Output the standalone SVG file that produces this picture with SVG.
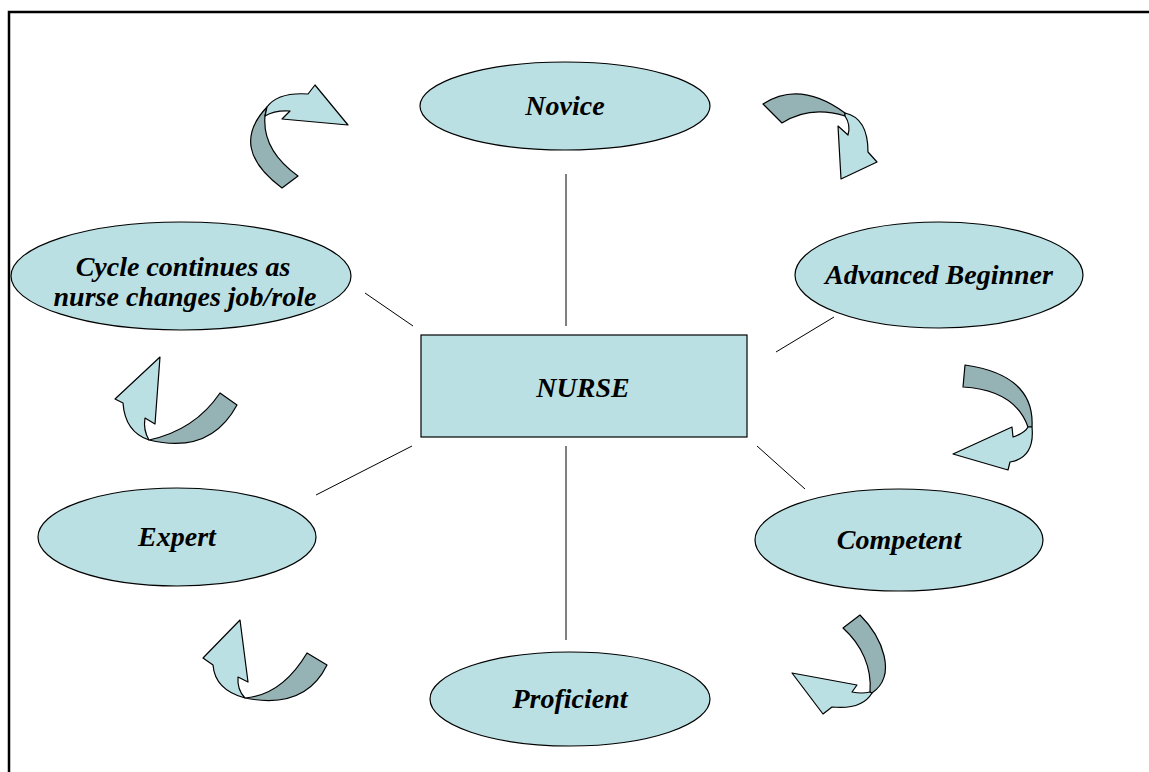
<svg xmlns="http://www.w3.org/2000/svg" width="1149" height="772" viewBox="0 0 1149 772">
<style>
.n{fill:#BBE0E3;stroke:#000;stroke-width:1.2}
.t{font-family:"Liberation Serif","Times New Roman",serif;font-weight:bold;font-style:italic;font-size:28px;fill:#000;text-anchor:middle}
.c{stroke:#000;stroke-width:1;fill:none}
.lt{fill:#BBE0E3;stroke:#000;stroke-width:1.2;stroke-linejoin:round}
.dk{fill:#95B2B5;stroke:#000;stroke-width:1.2;stroke-linejoin:round}
</style>
<rect width="1149" height="772" fill="#fff"/>
<path d="M9,772 V12 H1149" fill="none" stroke="#000" stroke-width="2.5"/>
<g id="connectors">
<line class="c" x1="566" y1="174" x2="566" y2="326"/>
<line class="c" x1="776" y1="352" x2="834" y2="317"/>
<line class="c" x1="365" y1="293" x2="413" y2="326"/>
<line class="c" x1="316" y1="495" x2="412" y2="446"/>
<line class="c" x1="757" y1="446" x2="805" y2="489"/>
<line class="c" x1="566" y1="446" x2="566" y2="640"/>
</g>
<g id="cycle-arrows">
<g id="arrow1"><path class="dk" d="M282,188 Q228,148 267,107 L265,116 Q262,150 298,176 Z"/><path class="lt" d="M267,107 Q278,92 308,94 L315,85 L348,125 L282,119 L290,111 Q275,110 265,116 Z"/></g>
<g id="arrow2"><path class="dk" d="M763,104 Q800,80 845,113 L845,116 Q810,105 782,123 Z"/><path class="lt" d="M845,113 Q868,118 868,152 L877,162 L841,179 L838,126 L848,135 Q851,125 845,116 Z"/></g>
<g id="arrow3"><path class="dk" d="M965,365 Q1035,375 1032,427 L1028,427 Q1015,390 963,387 Z"/><path class="lt" d="M1032,427 Q1035,458 1010,462 L1008,470 L953,454 L1012,427 L1013,437 Q1025,433 1028,427 Z"/></g>
<g id="arrow4"><path class="dk" d="M860,615 C882,637 898,675 872,693 L870,692 C872,668 862,645 843,628 Z"/><path class="lt" d="M872,693 Q862,710 832,707 L823,714 L792,673 L857,685 L852,692 Q862,694 870,692 Z"/></g>
<g id="arrow5"><path class="dk" d="M245,698 Q282,695 307,653 L327,665 Q305,710 245,698 Z"/><path class="lt" d="M240,620 L203,658 L213,665 Q215,690 245,698 Q237,690 238,677 L248,682 Z"/></g>
<g id="arrow6"><path class="dk" d="M149,440 Q195,430 220,393 L237,405 Q210,455 149,440 Z"/><path class="lt" d="M160,357 L115,399 L123,403 Q125,432 149,440 Q143,430 145,418 L155,424 Z"/></g>
</g>
<g id="nurse"><rect class="n" x="421" y="335" width="326" height="102"/><text class="t" x="583" y="397">NURSE</text></g>
<g id="novice"><ellipse class="n" cx="565" cy="106" rx="145" ry="44"/><text class="t" x="565" y="115">Novice</text></g>
<g id="advanced-beginner"><ellipse class="n" cx="939" cy="275" rx="144" ry="53"/><text class="t" x="939" y="284">Advanced Beginner</text></g>
<g id="competent"><ellipse class="n" cx="899" cy="540" rx="144" ry="51"/><text class="t" x="899" y="549">Competent</text></g>
<g id="proficient"><ellipse class="n" cx="570" cy="699" rx="140" ry="47"/><text class="t" x="570" y="708">Proficient</text></g>
<g id="expert"><ellipse class="n" cx="177" cy="537" rx="139" ry="49"/><text class="t" x="177" y="546">Expert</text></g>
<g id="cycle"><ellipse class="n" cx="181" cy="276" rx="170" ry="54"/><text class="t" x="183" y="276">Cycle continues as</text><text class="t" x="185" y="306">nurse changes job/role</text></g>
</svg>
